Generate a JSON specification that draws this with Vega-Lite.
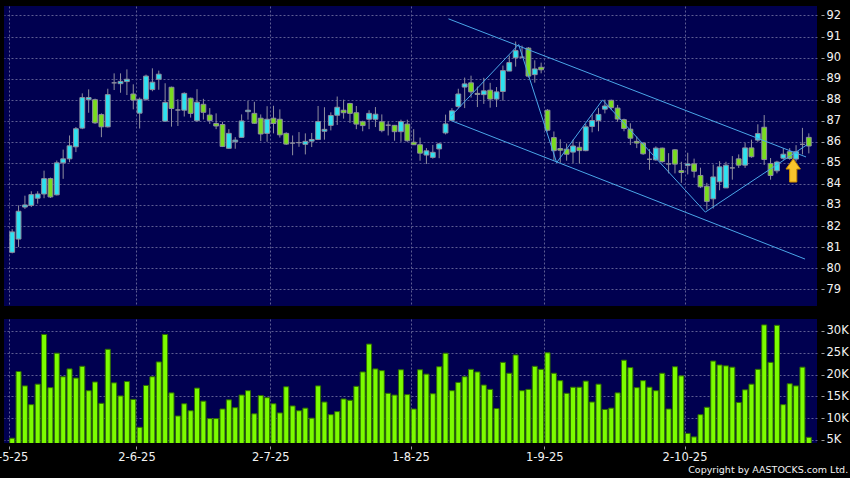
{
  "$schema": "https://vega.github.io/schema/vega-lite/v6.json",
  "background": "#000000",
  "autosize": {"type": "none"},
  "padding": {"left": 4, "top": 6, "right": 846, "bottom": 472},
  "bounds": "flush",
  "spacing": 13,
  "config": {
    "view": {"fill": "#000050", "stroke": null},
    "font": "DejaVu Sans",
    "axis": {
      "labelFont": "DejaVu Sans", "labelFontSize": 11.5, "labelColor": "#f2f2f2",
      "tickColor": "#a0a0a0", "tickSize": 3, "domain": false, "title": null,
      "labelOverlap": false, "labelFlush": false, "tickCount": 30,
      "gridColor": "#5d5d92", "gridDash": [2, 2], "gridWidth": 1
    }
  },
  "datasets": {
    "k": [
      {"i":0,"d":"2025-05-06","o":80.75,"h":81.85,"l":80.7,"c":81.72,"v":5.4},
      {"i":1,"d":"2025-05-07","o":81.38,"h":82.98,"l":81.0,"c":82.7,"v":20.7},
      {"i":2,"d":"2025-05-08","o":82.9,"h":83.44,"l":82.81,"c":83.0,"v":17.4},
      {"i":3,"d":"2025-05-09","o":82.98,"h":83.65,"l":82.9,"c":83.49,"v":13.1},
      {"i":4,"d":"2025-05-12","o":83.32,"h":83.65,"l":83.06,"c":83.52,"v":17.8},
      {"i":5,"d":"2025-05-13","o":83.52,"h":84.63,"l":83.32,"c":84.25,"v":29.2},
      {"i":6,"d":"2025-05-14","o":84.25,"h":84.3,"l":83.33,"c":83.38,"v":17.0},
      {"i":7,"d":"2025-05-15","o":83.48,"h":85.11,"l":83.45,"c":85.0,"v":24.9},
      {"i":8,"d":"2025-05-16","o":85.0,"h":85.63,"l":84.24,"c":85.19,"v":19.5},
      {"i":9,"d":"2025-05-19","o":85.19,"h":86.3,"l":85.03,"c":85.81,"v":21.3},
      {"i":10,"d":"2025-05-20","o":85.76,"h":86.7,"l":85.51,"c":86.62,"v":19.2},
      {"i":11,"d":"2025-05-21","o":86.65,"h":88.3,"l":86.6,"c":88.1,"v":21.9},
      {"i":12,"d":"2025-05-22","o":88.0,"h":88.49,"l":87.38,"c":88.1,"v":16.3},
      {"i":13,"d":"2025-05-23","o":88.0,"h":88.05,"l":86.85,"c":86.9,"v":18.3},
      {"i":14,"d":"2025-05-26","o":87.29,"h":87.35,"l":86.22,"c":86.71,"v":13.4},
      {"i":15,"d":"2025-05-27","o":86.71,"h":88.52,"l":86.68,"c":88.24,"v":25.8},
      {"i":16,"d":"2025-05-28","o":88.8,"h":89.25,"l":88.46,"c":88.8,"v":18.1},
      {"i":17,"d":"2025-05-29","o":88.76,"h":89.25,"l":88.33,"c":88.87,"v":15.1},
      {"i":18,"d":"2025-05-30","o":88.86,"h":89.44,"l":88.22,"c":88.97,"v":18.4},
      {"i":19,"d":"2025-06-02","o":88.27,"h":88.73,"l":87.54,"c":87.98,"v":14.3},
      {"i":20,"d":"2025-06-03","o":87.36,"h":88.1,"l":86.63,"c":88.02,"v":7.9},
      {"i":21,"d":"2025-06-04","o":88.02,"h":89.19,"l":87.95,"c":89.12,"v":17.5},
      {"i":22,"d":"2025-06-05","o":88.48,"h":89.49,"l":88.4,"c":88.83,"v":19.5},
      {"i":23,"d":"2025-06-06","o":88.97,"h":89.38,"l":88.47,"c":89.21,"v":22.9},
      {"i":24,"d":"2025-06-09","o":86.98,"h":88.78,"l":86.95,"c":87.87,"v":29.2},
      {"i":25,"d":"2025-06-10","o":88.59,"h":88.62,"l":86.72,"c":87.58,"v":15.8},
      {"i":26,"d":"2025-06-11","o":87.51,"h":88.02,"l":86.75,"c":87.51,"v":10.5},
      {"i":27,"d":"2025-06-12","o":87.5,"h":88.35,"l":87.2,"c":88.3,"v":13.3},
      {"i":28,"d":"2025-06-13","o":88.07,"h":88.1,"l":87.15,"c":87.35,"v":11.7},
      {"i":29,"d":"2025-06-16","o":87.0,"h":88.5,"l":86.95,"c":87.88,"v":16.9},
      {"i":30,"d":"2025-06-17","o":87.78,"h":88.04,"l":87.06,"c":87.4,"v":13.9},
      {"i":31,"d":"2025-06-18","o":87.27,"h":87.6,"l":86.85,"c":87.01,"v":9.9},
      {"i":32,"d":"2025-06-19","o":86.87,"h":87.35,"l":86.6,"c":86.75,"v":9.9},
      {"i":33,"d":"2025-06-20","o":86.82,"h":86.95,"l":85.75,"c":85.78,"v":12.1},
      {"i":34,"d":"2025-06-23","o":85.69,"h":86.6,"l":85.66,"c":86.4,"v":14.2},
      {"i":35,"d":"2025-06-24","o":86.0,"h":86.22,"l":85.67,"c":86.08,"v":12.4},
      {"i":36,"d":"2025-06-25","o":86.21,"h":87.3,"l":86.2,"c":86.99,"v":15.3},
      {"i":37,"d":"2025-06-26","o":87.43,"h":87.94,"l":87.05,"c":87.5,"v":16.3},
      {"i":38,"d":"2025-06-27","o":87.35,"h":87.9,"l":86.85,"c":86.88,"v":11.0},
      {"i":39,"d":"2025-06-30","o":87.12,"h":87.3,"l":86.03,"c":86.37,"v":15.2},
      {"i":40,"d":"2025-07-02","o":86.4,"h":87.69,"l":86.0,"c":87.07,"v":14.7},
      {"i":41,"d":"2025-07-03","o":87.12,"h":87.71,"l":86.4,"c":86.87,"v":13.3},
      {"i":42,"d":"2025-07-04","o":87.07,"h":87.54,"l":86.2,"c":86.33,"v":11.2},
      {"i":43,"d":"2025-07-07","o":86.4,"h":86.45,"l":85.85,"c":85.89,"v":17.2},
      {"i":44,"d":"2025-07-08","o":85.94,"h":86.3,"l":85.36,"c":85.94,"v":12.8},
      {"i":45,"d":"2025-07-09","o":85.96,"h":86.46,"l":85.76,"c":85.96,"v":11.7},
      {"i":46,"d":"2025-07-10","o":85.88,"h":86.4,"l":85.4,"c":86.02,"v":12.3},
      {"i":47,"d":"2025-07-11","o":86.03,"h":86.42,"l":85.75,"c":86.11,"v":10.0},
      {"i":48,"d":"2025-07-14","o":86.11,"h":87.7,"l":86.08,"c":86.96,"v":17.4},
      {"i":49,"d":"2025-07-15","o":86.5,"h":87.64,"l":86.1,"c":86.59,"v":13.7},
      {"i":50,"d":"2025-07-16","o":86.78,"h":87.4,"l":86.54,"c":87.25,"v":10.8},
      {"i":51,"d":"2025-07-17","o":87.26,"h":88.15,"l":86.8,"c":87.64,"v":11.5},
      {"i":52,"d":"2025-07-18","o":87.5,"h":88.0,"l":87.1,"c":87.38,"v":14.4},
      {"i":53,"d":"2025-07-21","o":87.82,"h":87.85,"l":86.9,"c":87.35,"v":14.1},
      {"i":54,"d":"2025-07-22","o":87.38,"h":87.7,"l":86.6,"c":86.84,"v":17.3},
      {"i":55,"d":"2025-07-23","o":86.95,"h":87.0,"l":86.5,"c":86.77,"v":20.6},
      {"i":56,"d":"2025-07-24","o":87.07,"h":87.5,"l":86.6,"c":87.35,"v":27.0},
      {"i":57,"d":"2025-07-25","o":87.07,"h":87.65,"l":86.7,"c":87.31,"v":21.3},
      {"i":58,"d":"2025-07-28","o":86.95,"h":87.3,"l":86.45,"c":86.53,"v":20.9},
      {"i":59,"d":"2025-07-29","o":86.79,"h":86.95,"l":86.3,"c":86.79,"v":15.7},
      {"i":60,"d":"2025-07-30","o":86.78,"h":86.8,"l":86.05,"c":86.48,"v":15.3},
      {"i":61,"d":"2025-07-31","o":86.48,"h":87.05,"l":86.0,"c":86.96,"v":21.1},
      {"i":62,"d":"2025-08-01","o":86.84,"h":87.05,"l":86.0,"c":86.05,"v":15.4},
      {"i":63,"d":"2025-08-04","o":85.98,"h":86.6,"l":85.85,"c":85.86,"v":12.1},
      {"i":64,"d":"2025-08-05","o":85.86,"h":86.2,"l":85.1,"c":85.46,"v":21.1},
      {"i":65,"d":"2025-08-06","o":85.37,"h":85.7,"l":84.95,"c":85.57,"v":20.1},
      {"i":66,"d":"2025-08-07","o":85.26,"h":85.85,"l":85.2,"c":85.5,"v":15.6},
      {"i":67,"d":"2025-08-08","o":85.66,"h":85.95,"l":85.22,"c":85.9,"v":21.8},
      {"i":68,"d":"2025-08-11","o":86.42,"h":87.29,"l":86.35,"c":86.85,"v":24.9},
      {"i":69,"d":"2025-08-12","o":87.02,"h":87.6,"l":87.0,"c":87.47,"v":16.3},
      {"i":70,"d":"2025-08-13","o":87.68,"h":88.52,"l":87.6,"c":88.27,"v":18.2},
      {"i":71,"d":"2025-08-14","o":88.6,"h":89.05,"l":87.6,"c":88.75,"v":19.5},
      {"i":72,"d":"2025-08-15","o":88.8,"h":89.14,"l":88.1,"c":88.37,"v":21.2},
      {"i":73,"d":"2025-08-18","o":88.3,"h":88.62,"l":87.65,"c":88.25,"v":20.6},
      {"i":74,"d":"2025-08-19","o":88.24,"h":89.04,"l":87.8,"c":88.42,"v":17.6},
      {"i":75,"d":"2025-08-20","o":88.45,"h":88.8,"l":87.62,"c":88.03,"v":16.6},
      {"i":76,"d":"2025-08-21","o":88.03,"h":88.6,"l":87.65,"c":88.37,"v":12.2},
      {"i":77,"d":"2025-08-22","o":88.39,"h":89.62,"l":87.95,"c":89.38,"v":22.8},
      {"i":78,"d":"2025-08-25","o":89.36,"h":90.1,"l":89.36,"c":89.76,"v":20.3},
      {"i":79,"d":"2025-08-26","o":89.99,"h":90.76,"l":89.57,"c":90.33,"v":24.5},
      {"i":80,"d":"2025-08-27","o":90.02,"h":90.57,"l":89.98,"c":90.02,"v":16.3},
      {"i":81,"d":"2025-08-28","o":90.45,"h":90.5,"l":89.05,"c":89.12,"v":16.6},
      {"i":82,"d":"2025-08-29","o":89.19,"h":89.87,"l":88.81,"c":89.46,"v":21.9},
      {"i":83,"d":"2025-09-01","o":89.54,"h":89.76,"l":89.25,"c":89.42,"v":21.2},
      {"i":84,"d":"2025-09-02","o":87.5,"h":87.55,"l":86.49,"c":86.55,"v":25.0},
      {"i":85,"d":"2025-09-03","o":86.2,"h":86.49,"l":85.1,"c":85.58,"v":20.3},
      {"i":86,"d":"2025-09-04","o":85.68,"h":86.12,"l":85.0,"c":85.6,"v":18.6},
      {"i":87,"d":"2025-09-05","o":85.65,"h":85.92,"l":85.1,"c":85.41,"v":15.7},
      {"i":88,"d":"2025-09-08","o":85.51,"h":86.1,"l":84.98,"c":85.8,"v":17.1},
      {"i":89,"d":"2025-09-09","o":85.74,"h":86.0,"l":84.96,"c":85.58,"v":17.1},
      {"i":90,"d":"2025-09-10","o":85.58,"h":86.85,"l":85.55,"c":86.71,"v":18.5},
      {"i":91,"d":"2025-09-11","o":86.73,"h":87.3,"l":86.45,"c":87.01,"v":13.7},
      {"i":92,"d":"2025-09-12","o":87.01,"h":87.6,"l":86.5,"c":87.3,"v":17.8},
      {"i":93,"d":"2025-09-15","o":87.55,"h":88.0,"l":87.35,"c":87.7,"v":12.0},
      {"i":94,"d":"2025-09-16","o":87.97,"h":88.0,"l":87.5,"c":87.62,"v":12.3},
      {"i":95,"d":"2025-09-17","o":87.6,"h":87.75,"l":86.95,"c":87.08,"v":15.8},
      {"i":96,"d":"2025-09-18","o":87.05,"h":87.1,"l":86.5,"c":86.63,"v":23.3},
      {"i":97,"d":"2025-09-19","o":86.6,"h":86.88,"l":85.85,"c":86.17,"v":21.6},
      {"i":98,"d":"2025-09-22","o":86.02,"h":86.25,"l":85.7,"c":85.94,"v":17.0},
      {"i":99,"d":"2025-09-23","o":85.94,"h":85.98,"l":85.38,"c":85.43,"v":18.6},
      {"i":100,"d":"2025-09-24","o":85.17,"h":85.65,"l":84.67,"c":85.17,"v":17.1},
      {"i":101,"d":"2025-09-25","o":85.14,"h":85.78,"l":85.1,"c":85.7,"v":16.3},
      {"i":102,"d":"2025-09-26","o":85.7,"h":85.72,"l":85.0,"c":85.06,"v":20.3},
      {"i":103,"d":"2025-09-29","o":84.95,"h":85.46,"l":84.5,"c":84.95,"v":12.1},
      {"i":104,"d":"2025-09-30","o":85.62,"h":85.65,"l":84.5,"c":84.94,"v":21.8},
      {"i":105,"d":"2025-10-02","o":84.63,"h":85.05,"l":84.05,"c":84.54,"v":19.7},
      {"i":106,"d":"2025-10-03","o":84.87,"h":85.48,"l":84.45,"c":84.95,"v":6.5},
      {"i":107,"d":"2025-10-06","o":84.95,"h":85.2,"l":84.3,"c":84.6,"v":5.7},
      {"i":108,"d":"2025-10-08","o":84.4,"h":84.77,"l":83.8,"c":83.86,"v":10.8},
      {"i":109,"d":"2025-10-09","o":83.89,"h":84.05,"l":82.78,"c":83.17,"v":12.5},
      {"i":110,"d":"2025-10-10","o":83.29,"h":84.92,"l":82.83,"c":84.33,"v":23.1},
      {"i":111,"d":"2025-10-13","o":84.1,"h":85.08,"l":83.7,"c":84.81,"v":22.2},
      {"i":112,"d":"2025-10-14","o":83.81,"h":85.05,"l":83.81,"c":84.89,"v":22.0},
      {"i":113,"d":"2025-10-15","o":84.76,"h":85.32,"l":84.2,"c":84.76,"v":21.7},
      {"i":114,"d":"2025-10-16","o":85.19,"h":85.4,"l":84.76,"c":84.89,"v":13.6},
      {"i":115,"d":"2025-10-17","o":84.89,"h":85.95,"l":84.76,"c":85.71,"v":16.5},
      {"i":116,"d":"2025-10-20","o":85.71,"h":86.1,"l":85.24,"c":85.29,"v":17.8},
      {"i":117,"d":"2025-10-21","o":86.08,"h":86.83,"l":86.0,"c":86.39,"v":21.2},
      {"i":118,"d":"2025-10-22","o":86.69,"h":87.27,"l":84.9,"c":85.16,"v":31.4},
      {"i":119,"d":"2025-10-23","o":84.97,"h":85.23,"l":84.2,"c":84.4,"v":22.8},
      {"i":120,"d":"2025-10-24","o":84.62,"h":85.1,"l":84.5,"c":85.04,"v":31.3},
      {"i":121,"d":"2025-10-27","o":85.22,"h":85.7,"l":85.15,"c":85.41,"v":13.1},
      {"i":122,"d":"2025-10-28","o":85.53,"h":85.7,"l":85.15,"c":85.21,"v":17.9},
      {"i":123,"d":"2025-10-30","o":85.18,"h":85.84,"l":85.06,"c":85.53,"v":17.4},
      {"i":124,"d":"2025-10-31","o":85.88,"h":86.66,"l":85.4,"c":85.88,"v":21.7},
      {"i":125,"d":"2025-11-03","o":86.21,"h":86.4,"l":85.45,"c":85.8,"v":5.6}
    ],
    "ln": [
      {"g":"upper","i":68.46,"p":91.84},
      {"g":"upper","i":124.56,"p":85.28},
      {"g":"lower","i":68.93,"p":87.0},
      {"g":"lower","i":124.41,"p":80.43},
      {"g":"zigzag","i":68.85,"p":87.22},
      {"g":"zigzag","i":79.47,"p":90.62},
      {"g":"zigzag","i":85.43,"p":85.01},
      {"g":"zigzag","i":92.64,"p":87.99},
      {"g":"zigzag","i":108.76,"p":82.66},
      {"g":"zigzag","i":124.72,"p":85.86}
    ],
    "ar": [{"i":122.55,"p":84.64}]
  },
  "vconcat": [
    {
      "width": 813,
      "height": 300,
      "layer": [
        {
          "data": {"name": "k"},
          "mark": {"type": "rule", "color": "#8e8e9e", "strokeWidth": 1},
          "encoding": {
            "x": {"field": "i", "type": "quantitative",
                  "scale": {"domain": [-0.5, 125.5], "nice": false, "zero": false},
                  "axis": {"values": [-0.5, 19.5, 40.5, 62.5, 83.5, 105.5], "labels": false, "ticks": false, "grid": true, "tickCount": 30}},
            "y": {"field": "l", "type": "quantitative",
                  "scale": {"domain": [78.2, 92.45], "nice": false, "zero": false},
                  "axis": {"orient": "right", "values": [79,80,81,82,83,84,85,86,87,88,89,90,91,92], "format": "d", "tickCount": 30, "labelOverlap": false, "offset": 4, "labelPadding": 2, "grid": true}},
            "y2": {"field": "h"}
          }
        },
        {
          "data": {"name": "k"},
          "mark": {"type": "bar", "size": 4.8, "stroke": "#8e8e9e", "strokeWidth": 1},
          "encoding": {
            "x": {"field": "i", "type": "quantitative"},
            "y": {"field": "o", "type": "quantitative", "scale": {"domain": [78.2, 92.45], "nice": false, "zero": false}},
            "y2": {"field": "c"},
            "fill": {"condition": [{"test": "datum.c > datum.o", "value": "#2de1f0"}, {"test": "datum.c < datum.o", "value": "#78dc1e"}], "value": "#8e8e9e"}
          }
        },
        {
          "data": {"name": "ln"},
          "mark": {"type": "line", "color": "#4aa6e8", "strokeWidth": 1},
          "encoding": {
            "x": {"field": "i", "type": "quantitative"},
            "y": {"field": "p", "type": "quantitative", "scale": {"domain": [78.2, 92.45], "nice": false, "zero": false}},
            "detail": {"field": "g"}
          }
        },
        {
          "data": {"name": "ar"},
          "mark": {"type": "point", "shape": "M0,-1L0.62,-0.12L0.31,-0.12L0.31,1L-0.31,1L-0.31,-0.12L-0.62,-0.12Z", "size": 540, "filled": true, "fill": "#f9c42c", "stroke": "#c98d00", "strokeWidth": 1, "opacity": 1},
          "encoding": {
            "x": {"field": "i", "type": "quantitative"},
            "y": {"field": "p", "type": "quantitative", "scale": {"domain": [78.2, 92.45], "nice": false, "zero": false}}
          }
        }
      ]
    },
    {
      "width": 813,
      "height": 124,
      "title": {"text": "Copyright by AASTOCKS.com Ltd.", "orient": "bottom", "anchor": "end", "frame": "bounds", "font": "DejaVu Sans", "fontSize": 9.5, "fontWeight": "normal", "color": "#f2f2f2", "offset": 2},
      "data": {"name": "k"},
      "mark": {"type": "bar", "size": 5, "fill": "#7cfc00", "stroke": "#2f6e00", "strokeWidth": 1, "clip": true},
      "encoding": {
        "x": {"field": "i", "type": "quantitative",
              "scale": {"domain": [-0.5, 125.5], "nice": false, "zero": false},
              "axis": {"values": [-0.5, 19.5, 40.5, 62.5, 83.5, 105.5], "tickCount": 30, "grid": true, "ticks": true, "offset": 3, "labelPadding": 2,
                       "labelExpr": "datum.value < 0 ? '2-5-25\u00a0\u00a0\u00a0' : datum.value < 20 ? '2-6-25' : datum.value < 41 ? '2-7-25' : datum.value < 63 ? '1-8-25' : datum.value < 84 ? '1-9-25' : '2-10-25'"}},
        "y": {"field": "v", "type": "quantitative",
              "scale": {"domain": [4.3, 32.75], "nice": false, "zero": false},
              "axis": {"orient": "right", "values": [5, 10, 15, 20, 25, 30], "tickCount": 30, "labelOverlap": false, "offset": 4, "labelPadding": 2, "grid": true, "labelExpr": "datum.value + 'K'"}}
      }
    }
  ]
}
